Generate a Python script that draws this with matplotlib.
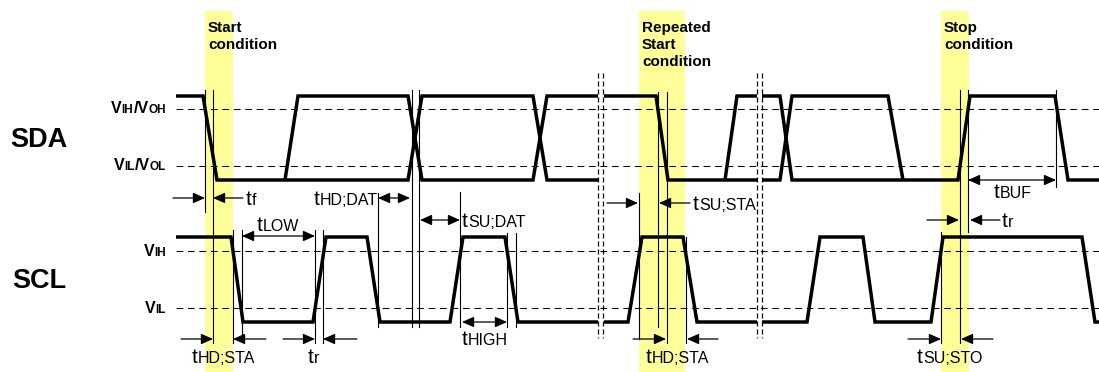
import matplotlib.pyplot as plt
from matplotlib.patches import Rectangle

plt.rcParams['font.family'] = ['Liberation Sans', 'DejaVu Sans']

# waveform corner points: (time in px, logic state)
sda_segments = [
    [(176, 1), (203, 1), (217, 0), (408, 0), (422, 1), (533, 1), (547, 0), (598, 0)],
    [(285, 0), (298, 1), (408, 1), (422, 0), (533, 0), (547, 1), (598, 1)],
    [(604, 1), (656, 1), (668, 0), (757, 0)],
    [(725, 0), (737, 1), (757, 1)],
    [(762, 1), (780, 1), (792, 0), (958, 0), (970, 1), (1055, 1), (1068, 0), (1099, 0)],
    [(762, 0), (780, 0), (792, 1), (888, 1), (903, 0)],
]
scl_segments = [
    [(176, 1), (231, 1), (243, 0), (313, 0), (326, 1), (367, 1), (380, 0), (450, 0),
     (463, 1), (505, 1), (518, 0), (598, 0)],
    [(604, 0), (628, 0), (642, 1), (683, 1), (697, 0), (757, 0)],
    [(762, 0), (807, 0), (820, 1), (863, 1), (875, 0), (931, 0), (943, 1), (1082, 1),
     (1095, 0), (1099, 0)],
]

bands = [(205, 233), (639, 685), (941, 969)]
band_titles = ['Start\ncondition', 'Repeated\nStart\ncondition', 'Stop\ncondition']
breaks = [598, 603, 757, 762]

# thin marker lines (x, top, bottom)
markers = [(205, 90, 212), (213, 90, 343), (233, 230, 343), (242, 230, 340),
           (315, 230, 343), (323, 230, 343), (378, 193, 327), (412, 90, 327),
           (419, 90, 327), (460, 192, 327), (507, 233, 327), (516, 233, 327),
           (639, 193, 339), (658, 92, 327), (667, 92, 343), (686, 237, 343),
           (941, 232, 343), (960, 90, 343), (968, 90, 232), (1056, 90, 187)]

# one-sided arrows (tail, head, y) and double arrows (x0, x1, y)
arrows = [(173, 205, 198), (243, 213, 198), (181, 213, 339), (266, 233, 339),
          (283, 315, 339), (357, 323, 339), (607, 638, 203), (690, 659, 203),
          (633, 666, 339), (718, 687, 339), (927, 959, 220), (1000, 970, 220),
          (908, 941, 339), (993, 961, 339)]
double_arrows = [(378, 410, 198), (420, 460, 220), (242, 315, 236), (462, 507, 322),
                 (968, 1056, 180)]

# timing labels: (x, baseline, subscript)
t_labels = [(246, 205, 'f'), (314, 205, 'HD;DAT'), (257, 231, 'LOW'),
            (462, 227, 'SU;DAT'), (462, 345, 'HIGH'), (192, 363, 'HD;STA'),
            (308, 363, 'r'), (693, 210, 'SU;STA'), (646, 363, 'HD;STA'),
            (994, 198, 'BUF'), (1002, 227, 'r'), (917, 363, 'SU;STO')]

sda_y = {1: 96, 0: 180}
scl_y = {1: 237, 0: 322}

fig = plt.figure(figsize=(10.99, 3.72), dpi=100)
ax = fig.add_axes([0, 0, 1, 1])
ax.set_xlim(0, 1099)
ax.set_ylim(372, 0)
ax.axis('off')

for (x0, x1), title in zip(bands, band_titles):
    ax.add_patch(Rectangle((x0, 11), x1 - x0, 361, facecolor='#ffff99',
                           edgecolor='none', zorder=0))
    ax.text(x0 + 3, 21, title, fontsize=11, fontweight='bold', va='top',
            linespacing=1.25, zorder=5)

for y in [109, 166, 251, 308]:
    ax.plot([176, 1099], [y, y], color='k', lw=0.75, dashes=(6.5, 4.5), zorder=1)

for seg in sda_segments:
    ax.plot([p[0] for p in seg], [sda_y[p[1]] for p in seg], color='k', lw=2.5,
            solid_joinstyle='miter', solid_capstyle='butt', zorder=3)
for seg in scl_segments:
    ax.plot([p[0] for p in seg], [scl_y[p[1]] for p in seg], color='k', lw=2.5,
            solid_joinstyle='miter', solid_capstyle='butt', zorder=3)

for x in breaks:
    ax.plot([x, x], [73, 338], color='k', lw=0.9, dashes=(4, 2.4), zorder=2)

for x, y0, y1 in markers:
    ax.plot([x, x], [y0, y1], color='k', lw=0.8, zorder=2)

for tail, head, y in arrows:
    ax.annotate('', xy=(head, y), xytext=(tail, y),
                arrowprops=dict(arrowstyle='-|>,head_length=0.45,head_width=0.2',
                                color='k', lw=0.9, shrinkA=0, shrinkB=0, mutation_scale=16))
for x0, x1, y in double_arrows:
    ax.annotate('', xy=(x1, y), xytext=(x0, y),
                arrowprops=dict(arrowstyle='<|-|>,head_length=0.45,head_width=0.2',
                                color='k', lw=0.9, shrinkA=0, shrinkB=0, mutation_scale=16))

renderer = fig.canvas.get_renderer()


def piece_text(x, y, parts, ha='left', weight='normal'):
    objs = [ax.text(x, y, s, fontsize=size, fontweight=weight, va='baseline',
                    ha='left', zorder=5) for s, size in parts]
    widths = [o.get_window_extent(renderer).width for o in objs]
    start = x - sum(widths) if ha == 'right' else x
    for o, w in zip(objs, widths):
        o.set_x(start)
        start += w


for x, y, sub in t_labels:
    piece_text(x, y, [('t', 15), (sub, 11.5)])

piece_text(166, 113, [('V', 11.5), ('IH', 8.5), ('/V', 11.5), ('OH', 8.5)], ha='right', weight='bold')
piece_text(166, 170, [('V', 11.5), ('IL', 8.5), ('/V', 11.5), ('OL', 8.5)], ha='right', weight='bold')
piece_text(166, 256, [('V', 11.5), ('IH', 8.5)], ha='right', weight='bold')
piece_text(166, 313, [('V', 11.5), ('IL', 8.5)], ha='right', weight='bold')

ax.text(10, 147, 'SDA', fontsize=19.5, fontweight='bold', va='baseline')
ax.text(12, 288, 'SCL', fontsize=19.5, fontweight='bold', va='baseline')

fig.savefig('out.png', dpi=100)
